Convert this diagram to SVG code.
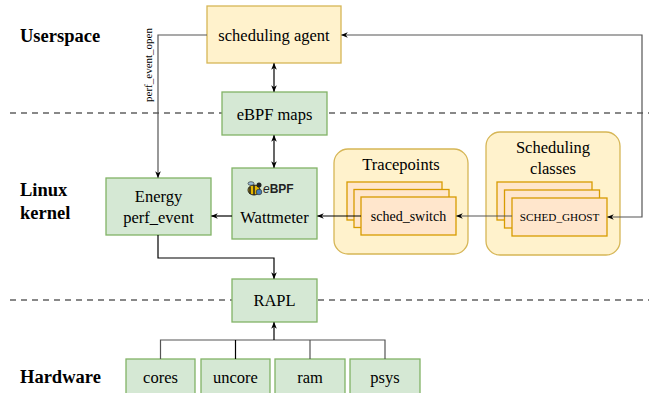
<svg xmlns="http://www.w3.org/2000/svg" width="649" height="393" viewBox="0 0 649 393" font-family="'Liberation Serif', serif">
<style>
.t{font-family:'Liberation Serif',serif;font-size:16.5px;fill:#000;text-anchor:middle}
.sec{font-family:'Liberation Serif',serif;font-size:18.5px;font-weight:bold;fill:#000}
.g{fill:#d5e8d4;stroke:#82b366;stroke-width:1.3}
.y{fill:#fff2cc;stroke:#d6b656;stroke-width:1.3}
.o{fill:#ffe6cc;stroke:#d79b00;stroke-width:1.3}
.c{fill:none;stroke:#000;stroke-width:1.2}
.cg{fill:none;stroke:#555;stroke-width:1.2}
.dash{stroke:#888;stroke-width:2;stroke-dasharray:6 5;fill:none}
</style>
<defs>
<marker id="ah" viewBox="0 0 10 10" refX="9" refY="5" markerWidth="7" markerHeight="7" orient="auto-start-reverse" markerUnits="userSpaceOnUse">
<path d="M0,1 L10,5 L0,9 L3,5 Z" fill="#000"/>
</marker>
</defs>
<rect width="649" height="393" fill="#fff"/>
<g id="separators">
<line class="dash" x1="10" y1="113" x2="649" y2="113"/>
<line class="dash" x1="10" y1="300" x2="649" y2="300"/>
</g>
<g id="section-labels">
<text class="sec" x="20" y="42">Userspace</text>
<text class="sec" x="20" y="196">Linux</text>
<text class="sec" x="20" y="219">kernel</text>
<text class="sec" x="20" y="383">Hardware</text>
</g>
<g id="scheduling-agent">
<rect class="y" x="207" y="6" width="134" height="57"/>
<text class="t" x="274" y="40.5">scheduling agent</text>
</g>
<g id="ebpf-maps">
<rect class="g" x="222" y="92" width="105" height="43"/>
<text class="t" x="274.5" y="119.5">eBPF maps</text>
</g>
<g id="wattmeter">
<rect class="g" x="232" y="168" width="85" height="71"/>
<g id="ebpf-logo">
<ellipse cx="254" cy="190" rx="6" ry="5" fill="#e6b800" stroke="#222" stroke-width="1"/>
<line x1="250" y1="187" x2="250" y2="194" stroke="#222" stroke-width="1.5"/>
<line x1="254" y1="185" x2="254" y2="195" stroke="#222" stroke-width="1.5"/>
<circle cx="259" cy="185" r="2.5" fill="#222"/>
<ellipse cx="251" cy="183.5" rx="3" ry="1.8" fill="#9bbbd6" stroke="#222" stroke-width="0.6"/>
<circle cx="259" cy="192" r="2.8" fill="#4a7fb8" stroke="#222" stroke-width="0.6"/>
<text x="263" y="193" font-family="'Liberation Sans',Arial,sans-serif" font-size="12" font-weight="bold" fill="#222"><tspan font-style="italic" font-weight="normal">e</tspan>BPF</text>
</g>
<text class="t" x="274.5" y="222.5">Wattmeter</text>
</g>
<g id="energy-perf-event">
<rect class="g" x="106" y="178" width="105" height="57"/>
<text class="t" x="158.5" y="201.5">Energy</text>
<text class="t" x="158.5" y="222.5">perf_event</text>
</g>
<g id="tracepoints">
<rect class="y" x="334" y="149" width="134" height="105" rx="14"/>
<text class="t" x="401" y="169.5">Tracepoints</text>
<rect class="o" x="347" y="182" width="95" height="38"/>
<rect class="o" x="354" y="189.5" width="95" height="38"/>
<rect class="o" x="361" y="197" width="95" height="38"/>
<text class="t" x="408.5" y="221" style="font-size:14px">sched_switch</text>
</g>
<g id="scheduling-classes">
<rect class="y" x="486" y="132" width="134" height="123" rx="14"/>
<text class="t" x="553" y="152.5">Scheduling</text>
<text class="t" x="553" y="173.5">classes</text>
<rect class="o" x="497" y="182" width="95" height="38"/>
<rect class="o" x="504.5" y="190" width="95" height="38"/>
<rect class="o" x="512" y="198" width="95" height="38"/>
<text class="t" x="559.5" y="221" style="font-size:11.2px">SCHED_GHOST</text>
</g>
<g id="rapl">
<rect class="g" x="232" y="279" width="85" height="43"/>
<text class="t" x="274.5" y="305.5">RAPL</text>
</g>
<g id="cores">
<rect class="g" x="126" y="359" width="69" height="40"/>
<text class="t" x="160.5" y="382.5">cores</text>
</g>
<g id="uncore">
<rect class="g" x="201" y="359" width="69" height="40"/>
<text class="t" x="235.5" y="382.5">uncore</text>
</g>
<g id="ram">
<rect class="g" x="275" y="359" width="70" height="40"/>
<text class="t" x="310" y="382.5">ram</text>
</g>
<g id="psys">
<rect class="g" x="350" y="359" width="70" height="40"/>
<text class="t" x="385" y="382.5">psys</text>
</g>
<g id="connectors">
<path class="cg" d="M207,35 H158 V177.5" marker-end="url(#ah)"/>
<text x="0" y="0" transform="translate(152,65) rotate(-90)" font-family="'Liberation Serif',serif" font-size="11" text-anchor="middle">perf_event_open</text>
<path class="c" d="M274,63.5 V91.5" marker-start="url(#ah)" marker-end="url(#ah)"/>
<path class="c" d="M274,135.5 V167.5" marker-start="url(#ah)" marker-end="url(#ah)"/>
<path class="c" d="M232,216 H211.5" marker-end="url(#ah)"/>
<path class="c" d="M361,216 H317.5" marker-end="url(#ah)"/>
<path class="cg" d="M512,216 H456.5" marker-end="url(#ah)"/>
<path class="cg" d="M341.5,35 H642 V217 H607.5" marker-start="url(#ah)" marker-end="url(#ah)"/>
<path class="c" d="M158,235 V258 H274 V278.5" marker-end="url(#ah)"/>
<path class="cg" d="M160.5,359 V340 H385 V359"/>
<path class="c" d="M235.5,359 V340"/>
<path class="cg" d="M310,359 V340"/>
<path class="c" d="M274,340 V322.5" marker-end="url(#ah)"/>
</g>
</svg>
